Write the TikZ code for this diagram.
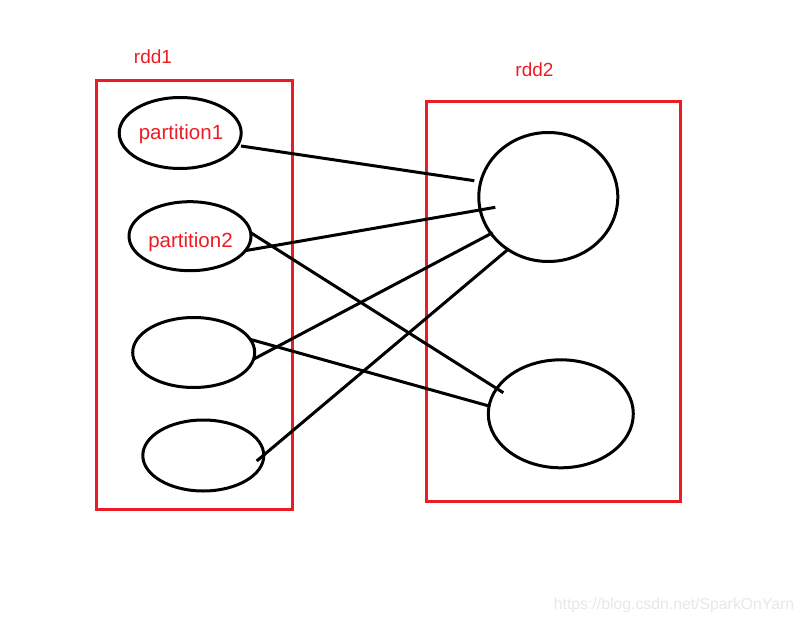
\documentclass[tikz,border=0pt]{standalone}
\usepackage{fontspec}
\setmainfont{Liberation Sans}
\usetikzlibrary{shapes.geometric}
\definecolor{pred}{RGB}{237,28,36}
\definecolor{wm}{RGB}{232,232,232}
\begin{document}
\begin{tikzpicture}[x=1pt,y=-1pt,
  part/.style={draw=black,line width=3pt,ellipse,inner sep=0pt,outer sep=0pt},
  box/.style={draw=pred,line width=3pt},
  lbl/.style={text=pred,font=\fontsize{19}{22}\selectfont,inner sep=0pt},
  plbl/.style={text=pred,font=\fontsize{20.5}{24}\selectfont,inner sep=0pt},
  link/.style={line width=3pt,line cap=butt}]
\useasboundingbox[fill=white] (0,0) rectangle (803,623);
% rdd boxes
\draw[box] (96.5,81) rectangle (292.5,509);
\draw[box] (426,101.5) rectangle (680,501.5);
\node[lbl] (t1) at (153,56.5) {rdd1};
\node[lbl] (t2) at (534.5,70) {rdd2};
% left ellipses
\node[part,minimum width=122pt,minimum height=71pt] (e1) at (180.2,133) {};
\node[part,minimum width=122pt,minimum height=69pt] (e2) at (190,236.2) {};
\node[part,minimum width=122pt,minimum height=70pt] (e3) at (193.7,352.5) {};
\node[part,minimum width=121pt,minimum height=71pt] (e4) at (203.3,455.5) {};
\node[plbl] (p1) at (181,134) {partition1};
\node[plbl] (p2) at (190.5,242.5) {partition2};
% right ellipses
\node[part,minimum width=139pt,minimum height=129pt] (r1) at (548.3,197) {};
\node[part,minimum width=145pt,minimum height=108pt] (r2) at (560.8,413.8) {};
% connector end points
\coordinate (a1) at (241,146);
\coordinate (b1) at (474.3,180.7);
\coordinate (a2) at (245,250.7);
\coordinate (b2) at (495.3,207.3);
\coordinate (a3) at (250.7,232.7);
\coordinate (b3) at (503.3,392.7);
\coordinate (a4) at (253.3,359.3);
\coordinate (b4) at (492.7,232.7);
\coordinate (a5) at (250,339.3);
\coordinate (b5) at (489,406);
\coordinate (a6) at (256.7,461);
\coordinate (b6) at (507.3,250);
\draw[link] (a1) -- (b1);
\draw[link] (a2) -- (b2);
\draw[link] (a3) -- (b3);
\draw[link] (a4) -- (b4);
\draw[link] (a5) -- (b5);
\draw[link] (a6) -- (b6);
% watermark
\node[text=wm,font=\fontsize{15.8}{18}\selectfont,inner sep=0pt] (w) at (674,605) {https://blog.csdn.net/SparkOnYarn};
\end{tikzpicture}
\end{document}
